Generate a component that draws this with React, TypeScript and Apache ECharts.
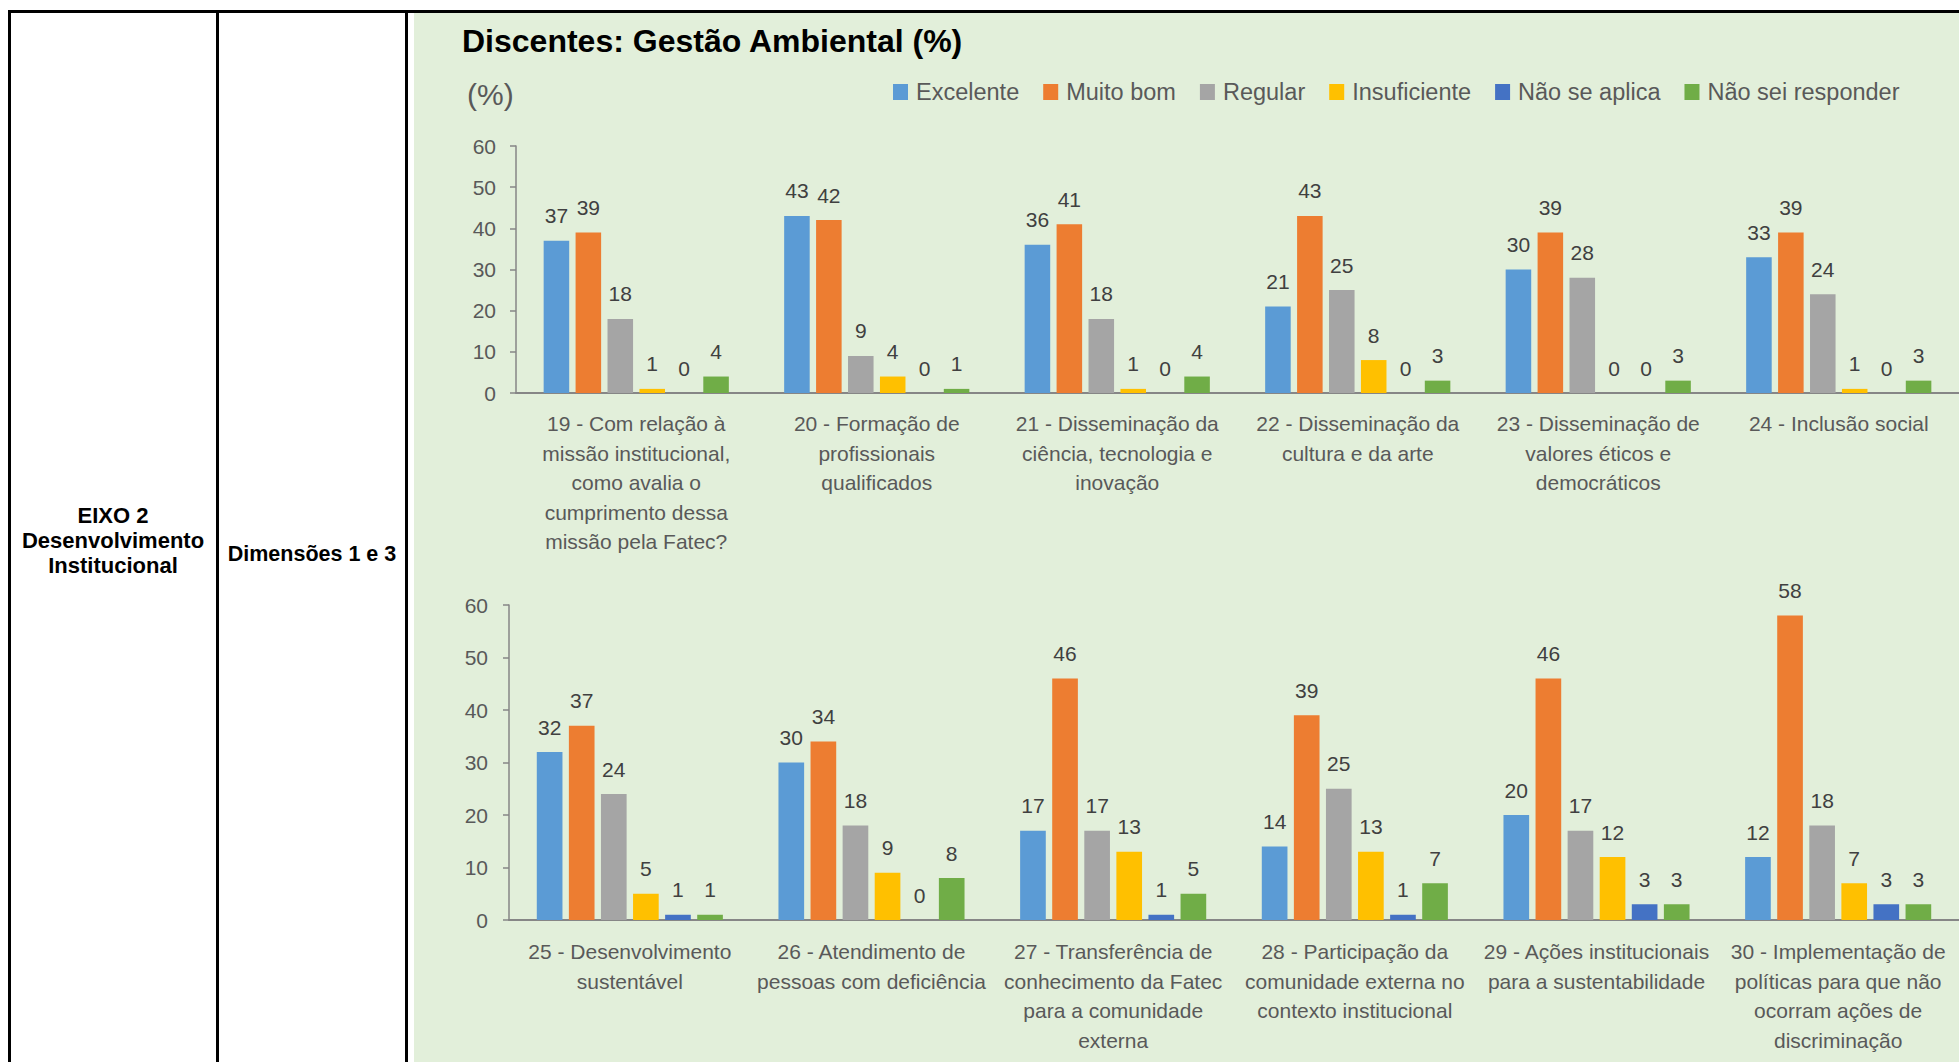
import React, { useEffect, useRef } from "react";
import * as echarts from "echarts";

const seriesNames = ["Excelente", "Muito bom", "Regular", "Insuficiente", "Não se aplica", "Não sei responder"];
const seriesColors = ["#5B9BD5", "#ED7D31", "#A5A5A5", "#FFC000", "#4472C4", "#70AD47"];

const categoriesTop = [
  "19 - Com relação à\nmissão institucional,\ncomo avalia o\ncumprimento dessa\nmissão pela Fatec?",
  "20 - Formação de\nprofissionais\nqualificados",
  "21 - Disseminação da\nciência, tecnologia e\ninovação",
  "22 - Disseminação da\ncultura e da arte",
  "23 - Disseminação de\nvalores éticos e\ndemocráticos",
  "24 - Inclusão social",
];
const categoriesBottom = [
  "25 - Desenvolvimento\nsustentável",
  "26 - Atendimento de\npessoas com deficiência",
  "27 - Transferência de\nconhecimento da Fatec\npara a comunidade\nexterna",
  "28 - Participação da\ncomunidade externa no\ncontexto institucional",
  "29 - Ações institucionais\npara a sustentabilidade",
  "30 - Implementação de\npolíticas para que não\nocorram ações de\ndiscriminação",
];

const excelenteTop = [37, 43, 36, 21, 30, 33];
const muitoBomTop = [39, 42, 41, 43, 39, 39];
const regularTop = [18, 9, 18, 25, 28, 24];
const insuficienteTop = [1, 4, 1, 8, 0, 1];
const naoSeAplicaTop = [0, 0, 0, 0, 0, 0];
const naoSeiTop = [4, 1, 4, 3, 3, 3];

const excelenteBottom = [32, 30, 17, 14, 20, 12];
const muitoBomBottom = [37, 34, 46, 39, 46, 58];
const regularBottom = [24, 18, 17, 25, 17, 18];
const insuficienteBottom = [5, 9, 13, 13, 12, 7];
const naoSeAplicaBottom = [1, 0, 1, 1, 3, 3];
const naoSeiBottom = [1, 8, 5, 7, 3, 3];

const yMin = 0;
const yMax = 60;
const yInterval = 10;

const topValues = [excelenteTop, muitoBomTop, regularTop, insuficienteTop, naoSeAplicaTop, naoSeiTop];
const bottomValues = [excelenteBottom, muitoBomBottom, regularBottom, insuficienteBottom, naoSeAplicaBottom, naoSeiBottom];

const FONT = "'Liberation Sans', Arial, sans-serif";

export default function App() {
  const ref = useRef<HTMLDivElement>(null);

  useEffect(() => {
    if (!ref.current) return;
    const chart = echarts.init(ref.current, undefined, { renderer: "svg" });

    const yAxisCommon = (labelMargin: number) => ({
      type: "value",
      min: yMin,
      max: yMax,
      interval: yInterval,
      splitLine: { show: false },
      axisLine: { show: true, lineStyle: { color: "#868686", width: 1.5 } },
      axisTick: { show: true, length: 6, lineStyle: { color: "#868686", width: 1.5 } },
      axisLabel: { color: "#595959", fontSize: 21, fontFamily: FONT, margin: labelMargin },
    });

    const xAxisCommon = (cats: string[], gridIndex: number, labelMargin: number) => ({
      type: "category",
      gridIndex,
      data: cats,
      axisTick: { show: false },
      axisLine: { show: true, lineStyle: { color: "#868686", width: 2 } },
      axisLabel: {
        interval: 0,
        color: "#595959",
        fontSize: 21,
        lineHeight: 29.5,
        fontFamily: FONT,
        margin: labelMargin,
      },
    });

    const makeSeries = (values: number[][], axisIndex: number) =>
      values.map((vals, i) => ({
        type: "bar",
        name: seriesNames[i],
        xAxisIndex: axisIndex,
        yAxisIndex: axisIndex,
        data: vals,
        barGap: "25%",
        barCategoryGap: "23%",
        itemStyle: { color: seriesColors[i] },
        label: {
          show: true,
          position: "top",
          distance: 14,
          color: "#404040",
          fontSize: 21,
          lineHeight: 22,
          fontFamily: FONT,
        },
      }));

    const option = {
      animation: false,
      backgroundColor: "#FFFFFF",
      color: seriesColors,
      legend: {
        left: 888,
        top: 75,
        itemWidth: 15,
        itemHeight: 16,
        itemGap: 24,
        icon: "rect",
        data: seriesNames,
        textStyle: {
          color: "#595959",
          fontSize: 23.5,
          fontFamily: FONT,
          lineHeight: 16,
          padding: [0, 0, 0, 3],
        },
      },
      grid: [
        { left: 516, top: 146, width: 1446, height: 247 },
        { left: 509, top: 605, width: 1452, height: 315 },
      ],
      xAxis: [xAxisCommon(categoriesTop, 0, 16), xAxisCommon(categoriesBottom, 1, 17)],
      yAxis: [
        { ...yAxisCommon(20), gridIndex: 0 },
        { ...yAxisCommon(21), gridIndex: 1 },
      ],
      series: [...makeSeries(topValues, 0), ...makeSeries(bottomValues, 1)],
      graphic: [
        { type: "rect", z: -100, shape: { x: 414, y: 13, width: 1545, height: 1049 }, style: { fill: "#E2EFDA" } },
        { type: "rect", z: 100, shape: { x: 8, y: 10, width: 1951, height: 3 }, style: { fill: "#000000" } },
        { type: "rect", z: 100, shape: { x: 8, y: 10, width: 3, height: 1052 }, style: { fill: "#000000" } },
        { type: "rect", z: 100, shape: { x: 216, y: 10, width: 3, height: 1052 }, style: { fill: "#000000" } },
        { type: "rect", z: 100, shape: { x: 405, y: 10, width: 3, height: 1052 }, style: { fill: "#000000" } },
        {
          type: "text",
          z: 100,
          x: 113,
          y: 540,
          style: {
            text: "EIXO 2\nDesenvolvimento\nInstitucional",
            fill: "#000000",
            font: `bold 22px ${FONT}`,
            lineHeight: 25,
            textAlign: "center",
            textVerticalAlign: "middle",
          },
        },
        {
          type: "text",
          z: 100,
          x: 312,
          y: 554,
          style: {
            text: "Dimensões 1 e 3",
            fill: "#000000",
            font: `bold 21.5px ${FONT}`,
            textAlign: "center",
            textVerticalAlign: "middle",
          },
        },
        {
          type: "text",
          z: 100,
          x: 462,
          y: 41,
          style: {
            text: "Discentes: Gestão Ambiental (%)",
            fill: "#000000",
            font: `bold 32px ${FONT}`,
            textAlign: "left",
            textVerticalAlign: "middle",
          },
        },
        {
          type: "text",
          z: 100,
          x: 467,
          y: 94,
          style: {
            text: "(%)",
            fill: "#595959",
            font: `30px ${FONT}`,
            textAlign: "left",
            textVerticalAlign: "middle",
          },
        },
      ],
    };

    chart.setOption(option as any);
    return () => chart.dispose();
  }, []);

  return (
    <div
      ref={ref}
      style={{ position: "absolute", left: 0, top: 0, width: 1959, height: 1062 }}
    />
  );
}
